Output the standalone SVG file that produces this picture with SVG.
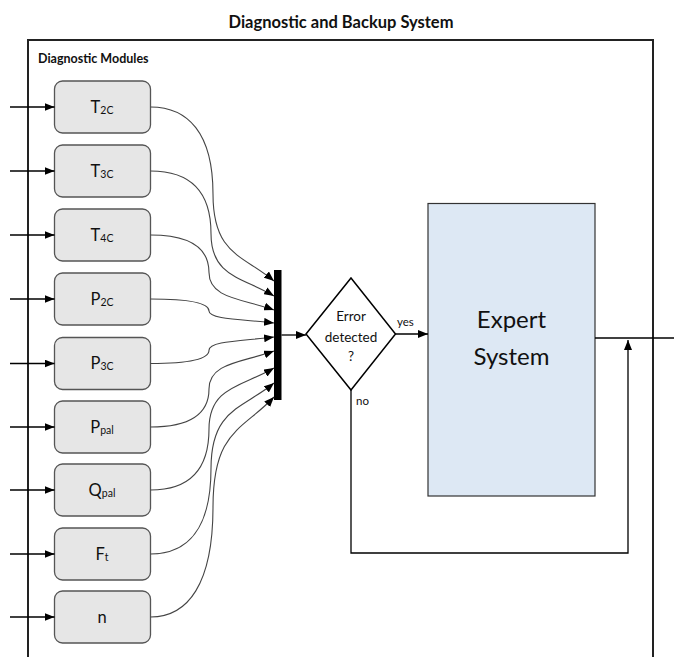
<svg xmlns="http://www.w3.org/2000/svg" width="674" height="657" viewBox="0 0 674 657">
<style>
text{font-family:Lato,"Liberation Sans",sans-serif;fill:#111}
.title{font-size:16.5px;font-weight:bold;text-anchor:middle}
.sub{font-size:12.5px;font-weight:bold}
.mod rect{fill:#e6e6e6;stroke:#555;stroke-width:1.3}
.mod text{font-size:16.5px;text-anchor:middle}
.mod tspan.s{font-size:10.5px}
.c{fill:none;stroke:#444;stroke-width:1.1}
.a{fill:none;stroke:#000;stroke-width:1.3}
.dt{font-size:13.5px;text-anchor:middle}
.lb{font-size:11.5px}
.es{font-size:24px;text-anchor:middle}
</style>
<defs>
<marker id="ah" markerUnits="userSpaceOnUse" markerWidth="10" markerHeight="8" refX="10" refY="4" orient="auto"><path d="M0,0 L10,4 L0,8 z" fill="#000"/></marker>
</defs>
<text class="title" x="341" y="28">Diagnostic and Backup System</text>
<path d="M28,657 V40 H653 V657" fill="none" stroke="#222" stroke-width="2"/>
<text class="sub" x="38" y="63">Diagnostic Modules</text>

<g id="T2C" class="mod"><rect x="54.5" y="81" width="96" height="52" rx="8"/><text x="102" y="112.5">T<tspan class="s" dy="1">2C</tspan></text></g>
<g id="T3C" class="mod"><rect x="54.5" y="145" width="96" height="52" rx="8"/><text x="102" y="176.5">T<tspan class="s" dy="1">3C</tspan></text></g>
<g id="T4C" class="mod"><rect x="54.5" y="209" width="96" height="52" rx="8"/><text x="102" y="240.5">T<tspan class="s" dy="1">4C</tspan></text></g>
<g id="P2C" class="mod"><rect x="54.5" y="273" width="96" height="52" rx="8"/><text x="102" y="304.5">P<tspan class="s" dy="1">2C</tspan></text></g>
<g id="P3C" class="mod"><rect x="54.5" y="337.5" width="96" height="52" rx="8"/><text x="102" y="369">P<tspan class="s" dy="1">3C</tspan></text></g>
<g id="Ppal" class="mod"><rect x="54.5" y="401" width="96" height="52" rx="8"/><text x="102" y="432.5">P<tspan class="s" dy="1">pal</tspan></text></g>
<g id="Qpal" class="mod"><rect x="54.5" y="464" width="96" height="52" rx="8"/><text x="102" y="495.5">Q<tspan class="s" dy="1">pal</tspan></text></g>
<g id="Ft" class="mod"><rect x="54.5" y="528" width="96" height="52" rx="8"/><text x="102" y="559.5">F<tspan class="s" dy="1">t</tspan></text></g>
<g id="n" class="mod"><rect x="54.5" y="591" width="96" height="52" rx="8"/><text x="102" y="622.5">n</text></g>

<g id="bar"><rect x="274" y="270" width="7.5" height="130" fill="#000"/></g>

<g id="decision"><path d="M306,334 L351,278 L395.5,334 L351,390 Z" fill="#fff" stroke="#000" stroke-width="1.5"/>
<text class="dt" x="351" y="321">Error</text><text class="dt" x="351" y="342">detected</text><text class="dt" x="351" y="361">?</text></g>

<g id="expert"><rect x="428" y="203.5" width="167" height="292.5" fill="#dde8f4" stroke="#333" stroke-width="1.2"/>
<text class="es" x="511.5" y="328">Expert</text><text class="es" x="511.5" y="365">System</text></g>

<g id="connectors">
<path class="a" d="M10,107 H54.5" marker-end="url(#ah)"/>
<path class="a" d="M10,171 H54.5" marker-end="url(#ah)"/>
<path class="a" d="M10,235 H54.5" marker-end="url(#ah)"/>
<path class="a" d="M10,299 H54.5" marker-end="url(#ah)"/>
<path class="a" d="M10,363.5 H54.5" marker-end="url(#ah)"/>
<path class="a" d="M10,427 H54.5" marker-end="url(#ah)"/>
<path class="a" d="M10,490 H54.5" marker-end="url(#ah)"/>
<path class="a" d="M10,554 H54.5" marker-end="url(#ah)"/>
<path class="a" d="M10,617 H54.5" marker-end="url(#ah)"/>

<path class="c" d="M150.5,107 C188,107 213,133.1 213,194 C213,254.9 243,254.9 274,281" marker-end="url(#ah)"/>
<path class="c" d="M150.5,171 C188,171 211,189.75 211,233.5 C211,277.25 243,277.25 274,296" marker-end="url(#ah)"/>
<path class="c" d="M150.5,235 C188,235 209,246.25 209,272.5 C209,298.75 243,298.75 274,310" marker-end="url(#ah)"/>
<path class="c" d="M150.5,299 C188,299 209,302.6 209,311 C209,319.4 243,319.4 274,323" marker-end="url(#ah)"/>
<path class="c" d="M150.5,363.5 C188,363.5 209,359.5 209,350.25 C209,341 243,341 274,337" marker-end="url(#ah)"/>
<path class="c" d="M150.5,427 C188,427 209,415.6 209,389 C209,362.4 243,362.4 274,351" marker-end="url(#ah)"/>
<path class="c" d="M150.5,490 C188,490 209,471.7 209,429 C209,386.3 243,386.3 274,368" marker-end="url(#ah)"/>
<path class="c" d="M150.5,554 C188,554 211,528.35 211,468.5 C211,408.65 243,408.65 274,383" marker-end="url(#ah)"/>
<path class="c" d="M150.5,617 C188,617 213,584 213,507 C213,430 243,430 274,397" marker-end="url(#ah)"/>

<path class="a" d="M281.5,335 H306" marker-end="url(#ah)"/>
<path class="a" d="M395.5,334 H428" marker-end="url(#ah)"/>
<path class="a" d="M351,390 V553 H628 V340" marker-end="url(#ah)"/>
<path class="a" d="M595,338 H674" stroke-width="1.1"/>
<text class="lb" x="397" y="326">yes</text>
<text class="lb" x="356" y="405">no</text>
</g>
</svg>
